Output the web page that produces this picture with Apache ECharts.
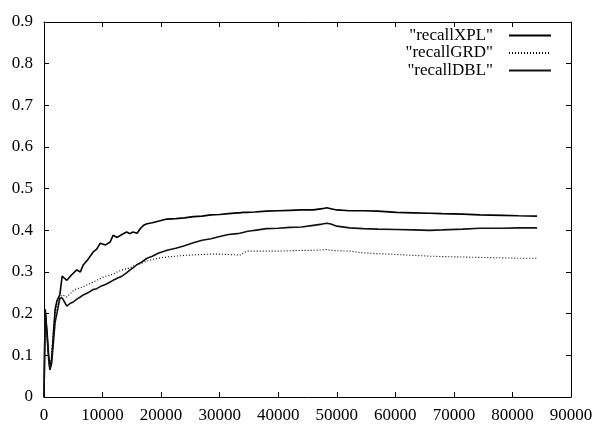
<!DOCTYPE html>
<html>
<head>
<meta charset="utf-8">
<script src="https://cdn.jsdelivr.net/npm/echarts@6/dist/echarts.min.js"></script>
<style>
  html, body { margin: 0; padding: 0; background: #fff; }
  #chart { width: 594px; height: 424px; }
</style>
</head>
<body>
<div id="chart"></div>
<script>
// sample positions shared by the three curves
const xVals = [0, 200, 500, 800, 1000, 1300, 1600, 1900, 2200, 2700,
  3100, 3500, 3900, 4500, 5000, 5600, 6200, 6700, 7500, 8400,
  9000, 9600, 10500, 11300, 11800, 12500, 13300, 14100, 14700, 15200,
  15900, 16500, 17000, 17600, 18500, 19500, 21000, 22500, 24000, 25500,
  27000, 28500, 30000, 31500, 33000, 33400, 34000, 34600, 36000, 38000,
  40000, 42000, 44000, 46000, 47500, 48300, 49000, 50000, 52200, 54500,
  57000, 60200, 63000, 65900, 68000, 71500, 74400, 78300, 81000, 84200]

const recallXPL = [0, 0.21, 0.16, 0.10, 0.07, 0.09, 0.15, 0.21, 0.23, 0.245,
  0.29, 0.285, 0.28, 0.29, 0.297, 0.305, 0.30, 0.317, 0.33, 0.348,
  0.355, 0.369, 0.365, 0.372, 0.388, 0.383, 0.39, 0.396, 0.392, 0.396,
  0.393, 0.405, 0.412, 0.416, 0.418, 0.422, 0.427, 0.428, 0.43, 0.433,
  0.434, 0.437, 0.438, 0.44, 0.442, 0.442, 0.443, 0.443, 0.444, 0.446,
  0.447, 0.448, 0.449, 0.449, 0.452, 0.454, 0.452, 0.449, 0.447, 0.447,
  0.446, 0.443, 0.442, 0.441, 0.44, 0.439, 0.437, 0.436, 0.435, 0.434]

const recallGRD = [0, 0.21, 0.15, 0.09, 0.07, 0.10, 0.16, 0.20, 0.217, 0.235,
  0.245, 0.243, 0.24, 0.248, 0.255, 0.26, 0.262, 0.265, 0.27, 0.276,
  0.28, 0.284, 0.29, 0.292, 0.295, 0.30, 0.305, 0.308, 0.31, 0.314,
  0.318, 0.32, 0.323, 0.326, 0.33, 0.333, 0.336, 0.338, 0.34, 0.341,
  0.342, 0.343, 0.343, 0.342, 0.341, 0.34, 0.345, 0.35, 0.35, 0.35,
  0.35, 0.351, 0.352, 0.352, 0.353, 0.354, 0.352, 0.351, 0.35, 0.346,
  0.344, 0.342, 0.34, 0.338, 0.337, 0.336, 0.335, 0.334, 0.333, 0.333]

const recallDBL = [0, 0.21, 0.15, 0.09, 0.065, 0.08, 0.13, 0.18, 0.20, 0.237,
  0.238, 0.228, 0.218, 0.225, 0.228, 0.235, 0.24, 0.245, 0.25, 0.258,
  0.26, 0.265, 0.27, 0.276, 0.28, 0.285, 0.29, 0.298, 0.305, 0.31,
  0.318, 0.322, 0.327, 0.333, 0.338, 0.345, 0.352, 0.357, 0.363, 0.37,
  0.376, 0.38, 0.385, 0.39, 0.392, 0.393, 0.395, 0.397, 0.4, 0.404,
  0.405, 0.407, 0.408, 0.412, 0.415, 0.417, 0.415, 0.41, 0.406, 0.404,
  0.403, 0.402, 0.401, 0.4, 0.401, 0.403, 0.405, 0.405, 0.406, 0.406]

const seriesNames = ['recallXPL', 'recallGRD', 'recallDBL']

const font = 'Liberation Serif'
const pairs = ys => xVals.map((x, i) => [x, ys[i]])

const chart = echarts.init(document.getElementById('chart'))

const axisLine = { show: true, onZero: false, lineStyle: { color: '#000', width: 1 } }
const axisTick = { show: true, inside: true, length: 5, lineStyle: { color: '#000' } }
const label = { color: '#000', fontFamily: font, fontSize: 17 }

const option = {
  animation: false,
  backgroundColor: '#fff',
  grid: { left: 44, right: 23, top: 22, bottom: 27, containLabel: false, outerBoundsMode: 'none' },
  legend: {
    orient: 'vertical',
    align: 'right',
    right: 37,
    top: 22,
    itemWidth: 42,
    itemHeight: 14,
    itemGap: 0.5,
    selectedMode: false,
    itemStyle: { opacity: 0 },
    formatter: name => '"' + name + '"',
    textStyle: { color: '#000', fontFamily: font, fontSize: 17, padding: [0, 11, 0, 0] },
    data: seriesNames
  },
  xAxis: [
    {
      type: 'value', position: 'bottom', min: 0, max: 90000, interval: 10000,
      axisLine, axisTick, splitLine: { show: false },
      axisLabel: { ...label, margin: 10, formatter: v => String(v) }
    },
    {
      type: 'value', position: 'top', min: 0, max: 90000, interval: 10000,
      axisLine, axisTick, splitLine: { show: false }, axisLabel: { show: false }
    }
  ],
  yAxis: [
    {
      type: 'value', position: 'left', min: 0, max: 0.9, interval: 0.1,
      axisLine, axisTick, splitLine: { show: false },
      axisLabel: { ...label, margin: 11, formatter: v => (v === 0 ? '0' : v.toFixed(1)) }
    },
    {
      type: 'value', position: 'right', min: 0, max: 0.9, interval: 0.1,
      axisLine, axisTick, splitLine: { show: false }, axisLabel: { show: false }
    }
  ],
  series: [
    {
      name: seriesNames[0], type: 'line', symbol: 'none',
      data: pairs(recallXPL),
      lineStyle: { color: '#000', width: 1.6 }, itemStyle: { color: '#000' }
    },
    {
      name: seriesNames[1], type: 'line', symbol: 'none',
      data: pairs(recallGRD),
      lineStyle: { color: '#000', width: 1.1, type: [1, 2] }, itemStyle: { color: '#000' }
    },
    {
      name: seriesNames[2], type: 'line', symbol: 'none',
      data: pairs(recallDBL),
      lineStyle: { color: '#111', width: 1.6 }, itemStyle: { color: '#111' }
    }
  ]
}

chart.setOption(option)
</script>
</body>
</html>
